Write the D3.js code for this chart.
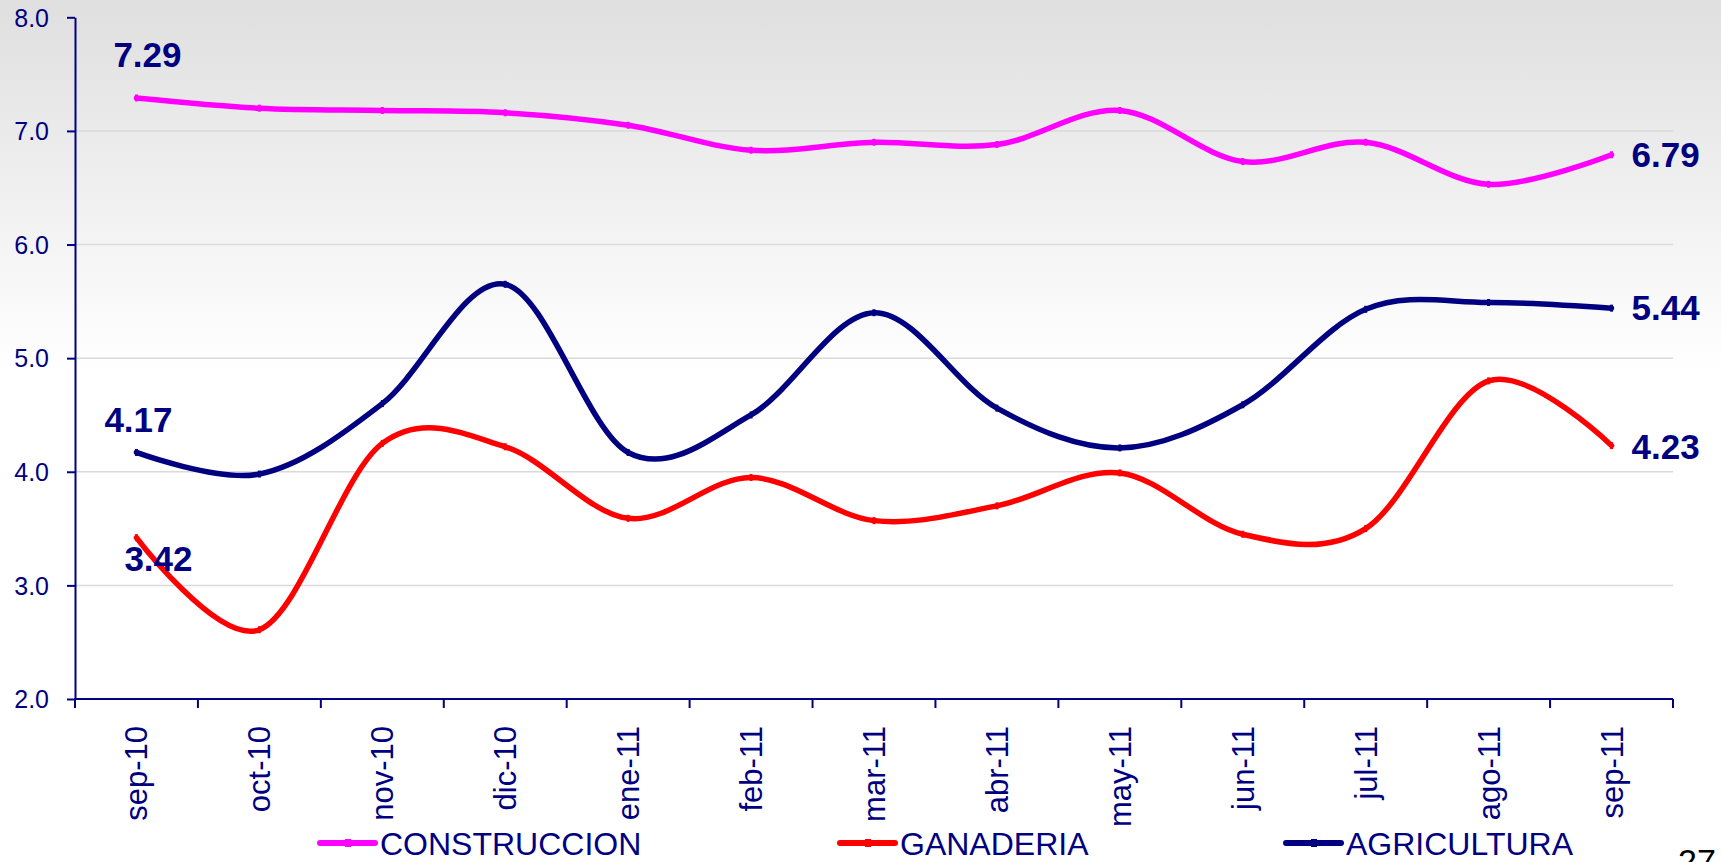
<!DOCTYPE html>
<html>
<head>
<meta charset="utf-8">
<script src="https://cdn.jsdelivr.net/npm/d3@7"></script>
<style>
  body { margin: 0; padding: 0; overflow: hidden; background: #fff; }
  svg { display: block; font-family: Arial, "Liberation Sans", sans-serif; }
</style>
</head>
<body>
<div id="chart"></div>
<script>
var months = ["sep-10", "oct-10", "nov-10", "dic-10", "ene-11", "feb-11", "mar-11",
              "abr-11", "may-11", "jun-11", "jul-11", "ago-11", "sep-11"];
var construccion = [7.29, 7.20, 7.18, 7.16, 7.05, 6.83, 6.90, 6.88, 7.18, 6.73, 6.90, 6.53, 6.79];
var ganaderia    = [3.42, 2.61, 4.25, 4.22, 3.59, 3.95, 3.57, 3.70, 3.99, 3.45, 3.50, 4.80, 4.23];
var agricultura  = [4.17, 3.98, 4.60, 5.65, 4.17, 4.50, 5.40, 4.56, 4.21, 4.59, 5.43, 5.49, 5.44];
var yTicks = [2, 3, 4, 5, 6, 7, 8];

var width = 1721,
    height = 862;
var navy = "#000080";

var series = [
  {name: "CONSTRUCCION", values: construccion, color: "#ff00ff"},
  {name: "GANADERIA", values: ganaderia, color: "#ff0000"},
  {name: "AGRICULTURA", values: agricultura, color: navy}
];

var svg = d3.select("#chart")
    .append("svg")
    .attr("width", width)
    .attr("height", height);

var grad = svg.append("defs").append("linearGradient")
    .attr("id", "bg")
    .attr("x1", 0).attr("y1", 0).attr("x2", 0).attr("y2", 1);
grad.append("stop").attr("offset", 0).attr("stop-color", "#dfdfdf");
grad.append("stop").attr("offset", 0.43).attr("stop-color", "#ffffff");

svg.append("rect")
    .attr("width", width)
    .attr("height", height)
    .attr("fill", "url(#bg)");

var x = d3.scaleBand()
    .domain(months)
    .range([75, 1673]);
var y = d3.scaleLinear()
    .domain([2, 8])
    .range([699, 17.3]);
function cx(i) { return x(months[i]) + x.bandwidth() / 2; }

// gridlines
svg.append("g")
    .selectAll("line")
    .data(yTicks.filter(function(d) { return d > 2 && d < 8; }))
    .enter().append("line")
    .attr("x1", 75).attr("x2", 1673)
    .attr("y1", function(d) { return y(d); })
    .attr("y2", function(d) { return y(d); })
    .attr("stroke", "#dadada")
    .attr("stroke-width", 1.5);

// y axis
var yAxis = svg.append("g")
    .attr("transform", "translate(75,0)")
    .call(d3.axisLeft(y).tickValues(yTicks).tickSize(8).tickSizeOuter(0)
      .tickFormat(d3.format(".1f")));
yAxis.select(".domain").attr("stroke", navy).attr("stroke-width", 2);
yAxis.selectAll(".tick line").attr("stroke", navy).attr("stroke-width", 2);
yAxis.selectAll(".tick text")
    .attr("x", -26)
    .attr("dy", "0.35em")
    .attr("fill", navy)
    .style("font-size", "25px")
    .style("font-family", "Arial, 'Liberation Sans', sans-serif");

// x axis with ticks between categories
var xg = svg.append("g");
xg.append("line")
    .attr("x1", 74).attr("x2", 1673)
    .attr("y1", 699).attr("y2", 699)
    .attr("stroke", navy).attr("stroke-width", 2);
xg.selectAll("line.tk")
    .data(d3.range(months.length + 1))
    .enter().append("line")
    .attr("class", "tk")
    .attr("x1", function(i) { return 75 + i * x.step(); })
    .attr("x2", function(i) { return 75 + i * x.step(); })
    .attr("y1", 699).attr("y2", 708)
    .attr("stroke", navy).attr("stroke-width", 2);
xg.selectAll("text")
    .data(months)
    .enter().append("text")
    .attr("transform", function(d) {
      return "translate(" + (x(d) + x.bandwidth() / 2 + 11) + ",726) rotate(-90)";
    })
    .attr("text-anchor", "end")
    .attr("fill", navy)
    .style("font-size", "31px")
    .text(function(d) { return d; });

// lines
var line = d3.line()
    .x(function(d, i) { return cx(i); })
    .y(function(d) { return y(d); })
    .curve(d3.curveCardinal.tension(0));

var lines = svg.append("g")
    .selectAll("g")
    .data(series)
    .enter().append("g");
lines.append("path")
    .attr("d", function(s) { return line(s.values); })
    .attr("fill", "none")
    .attr("stroke", function(s) { return s.color; })
    .attr("stroke-width", 5.5)
    .attr("stroke-linecap", "round");
lines.selectAll("rect")
    .data(function(s) { return s.values.map(function(v, i) { return {v: v, i: i, c: s.color}; }); })
    .enter().append("rect")
    .attr("x", function(d) { return cx(d.i) - 1.5; })
    .attr("y", function(d) { return y(d.v) - 3.5; })
    .attr("width", 3)
    .attr("height", 7)
    .attr("fill", function(d) { return d.c; });

// data labels, first and last point
var last = months.length - 1;
var labels = [
  {v: construccion[0], i: 0, dx: 11, dy: -31, anchor: "middle"},
  {v: agricultura[0], i: 0, dx: 2, dy: -20, anchor: "middle"},
  {v: ganaderia[0], i: 0, dx: 22, dy: 33, anchor: "middle"},
  {v: construccion[last], i: last, dx: 20, dy: 12, anchor: "start"},
  {v: agricultura[last], i: last, dx: 20, dy: 12, anchor: "start"},
  {v: ganaderia[last], i: last, dx: 20, dy: 13, anchor: "start"}
];
svg.append("g")
    .selectAll("text")
    .data(labels)
    .enter().append("text")
    .attr("x", function(d) { return cx(d.i) + d.dx; })
    .attr("y", function(d) { return y(d.v) + d.dy; })
    .attr("text-anchor", function(d) { return d.anchor; })
    .attr("fill", navy)
    .style("font-size", "35px")
    .style("font-weight", "bold")
    .text(function(d) { return d3.format(".2f")(d.v); });

// legend
var legendX = [320, 840, 1286];
var legend = svg.append("g")
    .selectAll("g")
    .data(series)
    .enter().append("g")
    .attr("transform", function(d, i) { return "translate(" + legendX[i] + ",843)"; });
legend.append("line")
    .attr("x1", 0).attr("x2", 55)
    .attr("stroke", function(d) { return d.color; })
    .attr("stroke-width", 6)
    .attr("stroke-linecap", "round");
legend.append("rect")
    .attr("x", 25).attr("y", -4)
    .attr("width", 6).attr("height", 8)
    .attr("fill", function(d) { return d.color; });
legend.append("text")
    .attr("x", 60)
    .attr("y", 12)
    .attr("fill", navy)
    .style("font-size", "32px")
    .text(function(d) { return d.name; });

svg.append("text")
    .attr("x", 1678)
    .attr("y", 873)
    .attr("fill", "#000")
    .style("font-size", "34px")
    .text("27");
</script>
</body>
</html>
